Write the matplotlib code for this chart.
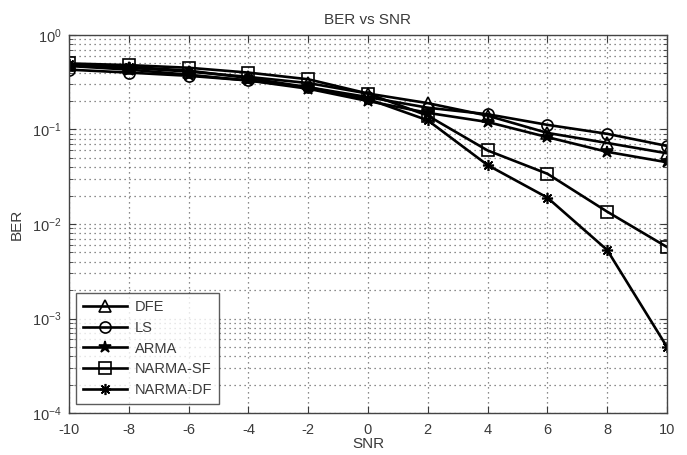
import matplotlib
matplotlib.use("Agg")
import matplotlib.pyplot as plt
from matplotlib.ticker import LogLocator, FixedLocator

plt.rcParams['font.family'] = ['Liberation Sans', 'DejaVu Sans']
plt.rcParams['mathtext.fontset'] = 'custom'
plt.rcParams['mathtext.rm'] = 'Liberation Sans'
plt.rcParams['axes.unicode_minus'] = False

snr = [-10, -8, -6, -4, -2, 0, 2, 4, 6, 8, 10]
dfe = [0.48, 0.45, 0.41, 0.36, 0.31, 0.24, 0.19, 0.14, 0.092, 0.072, 0.056]
ls = [0.43, 0.40, 0.37, 0.33, 0.28, 0.22, 0.17, 0.145, 0.112, 0.090, 0.067]
arma = [0.47, 0.43, 0.38, 0.33, 0.27, 0.20, 0.15, 0.12, 0.083, 0.058, 0.045]
narma_sf = [0.50, 0.48, 0.45, 0.40, 0.34, 0.24, 0.14, 0.060, 0.034, 0.0135, 0.0057]
narma_df = [0.49, 0.46, 0.42, 0.35, 0.28, 0.21, 0.125, 0.042, 0.019, 0.0053, 0.0005]

series = [
    ("DFE", dfe, '^'),
    ("LS", ls, 'o'),
    ("ARMA", arma, '*'),
    ("NARMA-SF", narma_sf, 's'),
    ("NARMA-DF", narma_df, (8, 2, 0)),
]

txt = '#3a3a3a'
fig = plt.figure(figsize=(6.87, 4.55), dpi=100)
ax = fig.add_axes([0.1004, 0.0923, 0.8705, 0.8308])

for name, vals, mk in series:
    filled = mk == '*'
    ax.plot(snr, vals, color='black', linewidth=1.9, marker=mk,
            markersize=8 if mk != '*' else 9,
            markerfacecolor='black' if filled else 'none',
            markeredgecolor='black', markeredgewidth=1.2, label=name)

ax.set_yscale('log')
ax.set_xlim(-10, 10)
ax.set_ylim(1e-4, 1)
ax.xaxis.set_major_locator(FixedLocator(snr))
ax.yaxis.set_major_locator(LogLocator(base=10, numticks=10))
ax.yaxis.set_minor_locator(LogLocator(base=10, subs=range(2, 10), numticks=20))

ax.grid(True, which='major', linestyle=(0, (1, 3)), color='#666666', linewidth=0.9)
ax.grid(True, which='minor', axis='y', linestyle=(0, (1, 3)), color='#666666', linewidth=0.9)
ax.tick_params(which='both', direction='in', top=True, right=True, colors=txt,
               labelsize=10.5, labelcolor=txt)
ax.tick_params(which='major', length=5)
ax.tick_params(which='minor', length=3)
ax.tick_params(axis='x', pad=7)
ax.tick_params(axis='y', pad=5)
for s in ax.spines.values():
    s.set_color('#444444')
    s.set_linewidth(1.0)

ax.set_title('BER vs SNR', fontsize=11, color=txt, pad=8)
ax.set_xlabel('SNR', fontsize=11, color=txt, labelpad=0)
ax.set_ylabel('BER', fontsize=11, color=txt, labelpad=6)

leg = ax.legend(loc='lower left', bbox_to_anchor=(0.012, 0.024), fontsize=10.5,
                frameon=True, fancybox=False, edgecolor='#333333',
                handlelength=3.0, borderpad=0.5, labelspacing=0.45,
                handletextpad=0.5, borderaxespad=0.0)
leg.get_frame().set_linewidth(1.0)
for t in leg.get_texts():
    t.set_color(txt)

fig.savefig('out.png', dpi=100)
